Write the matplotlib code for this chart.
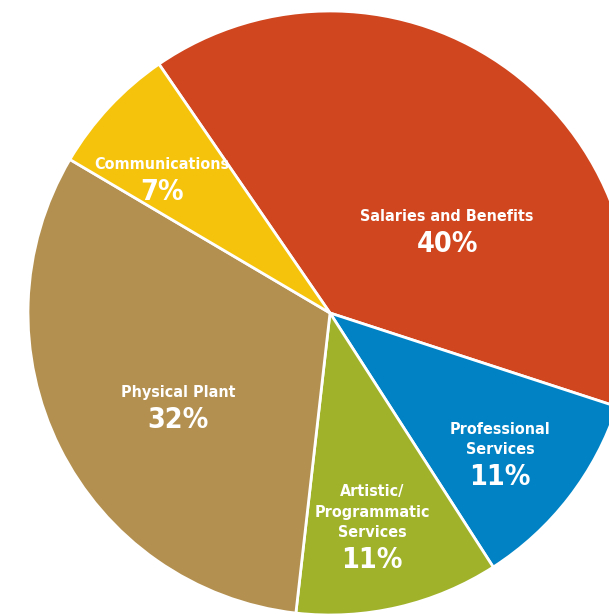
import matplotlib
matplotlib.use('Agg')
import matplotlib.pyplot as plt

categories = ['Salaries and Benefits', 'Professional\nServices',
              'Artistic/\nProgrammatic\nServices', 'Physical Plant', 'Communications']
shares = [40, 11, 11, 32, 7]
colors = ['#D0461E', '#0082C4', '#A0B22A', '#B39050', '#F5C30C']

# centre of each percent label, as (x, y) pixel position in the 609x614 picture
label_px = [(447, 244), (500, 477), (372, 560), (178, 420), (162, 192)]

W, H = 609, 614
cx, cy, R = 330, 313, 302

def to_data(px, py):
    return (px - cx) / R, (cy - py) / R

fig = plt.figure(figsize=(W / 100, H / 100), dpi=100)
ax = fig.add_axes([0, 0, 1, 1])
ax.pie(shares, colors=colors, startangle=124.5, counterclock=False,
       wedgeprops=dict(edgecolor='white', linewidth=2))
ax.set_xlim(-cx / R, (W - cx) / R)
ax.set_ylim(-(H - cy) / R, cy / R)
ax.set_aspect('equal')
ax.axis('off')

fam = ['DejaVu Sans']
for name, val, (px, py) in zip(categories, shares, label_px):
    x, y = to_data(px, py)
    ax.text(x, y + 20 / R, name, ha='center', va='bottom', color='white',
            fontsize=11.5, fontweight='bold', family=fam, fontstretch='condensed',
            linespacing=1.45, multialignment='center')
    ax.text(x, y, '{}%'.format(val), ha='center', va='center', color='white',
            fontsize=20.5, fontweight='bold', family=fam, fontstretch='condensed')

fig.savefig('out.png', dpi=100)
